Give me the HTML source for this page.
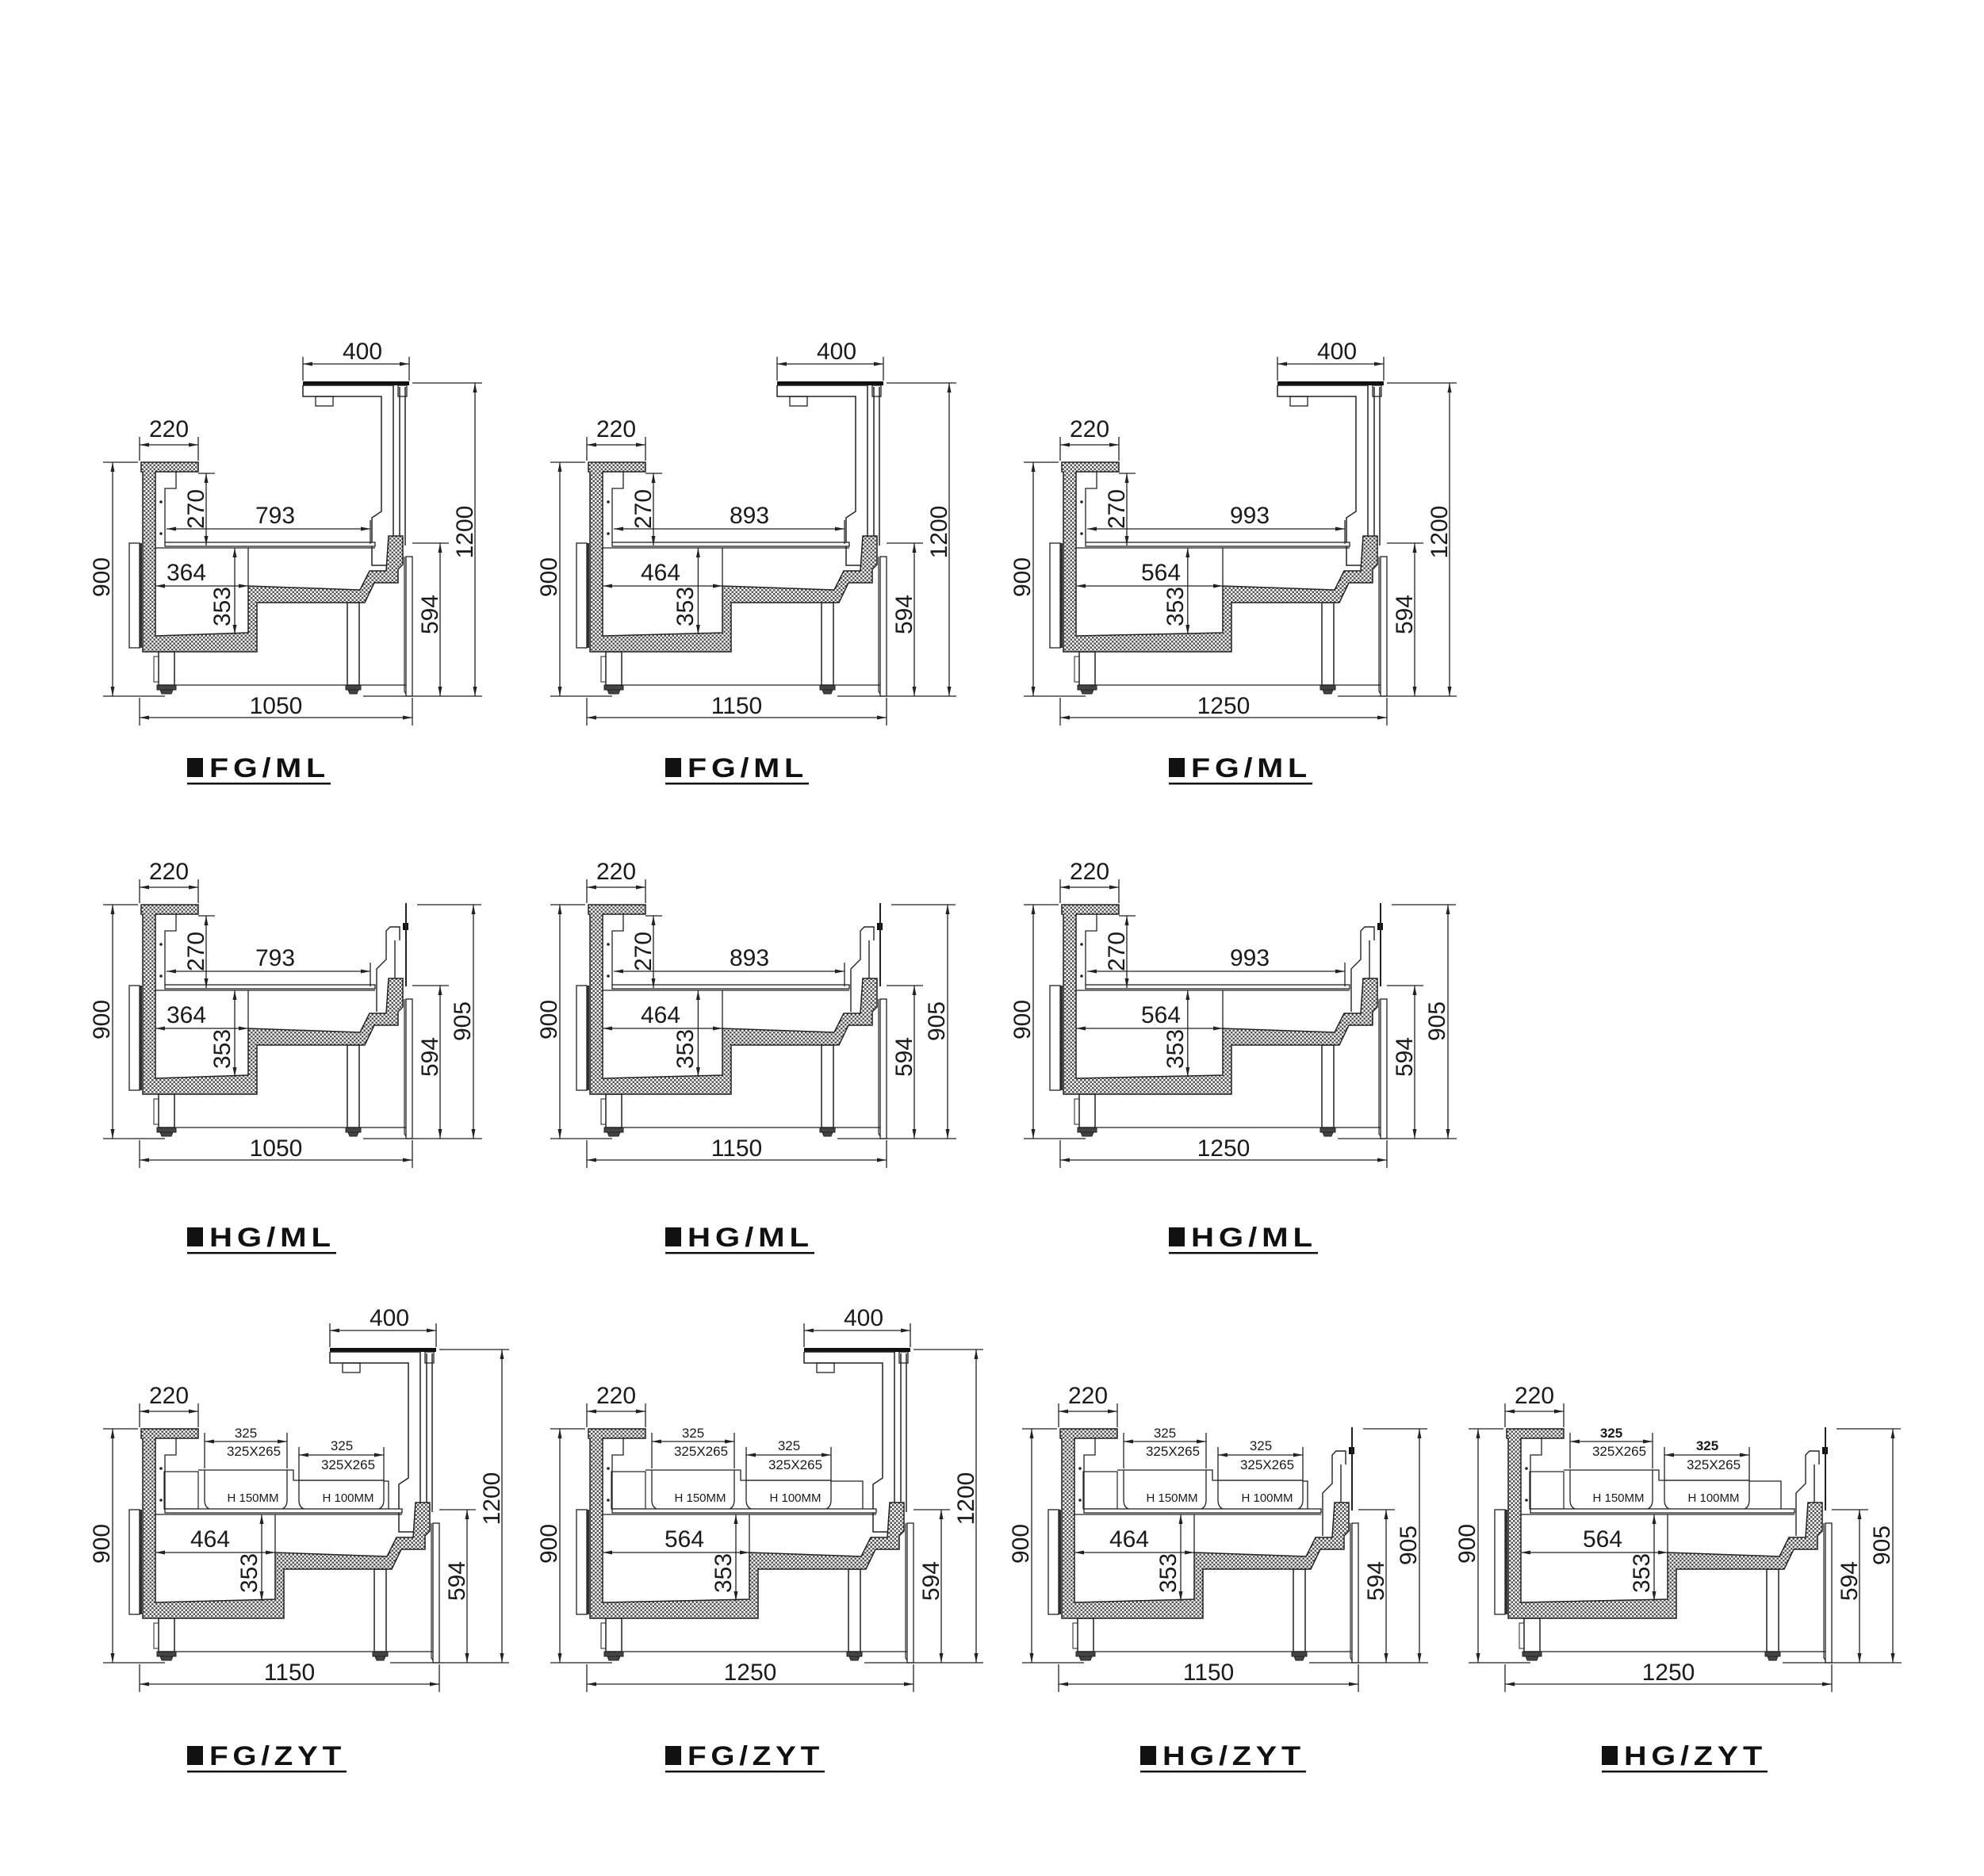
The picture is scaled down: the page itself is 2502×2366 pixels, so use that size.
<!DOCTYPE html>
<html><head><meta charset="utf-8">
<style>
html,body{margin:0;padding:0;background:#fff;}
svg{display:block}
.t{font-family:"Liberation Sans",Arial,sans-serif;font-size:30px;fill:#1a1a1a;text-anchor:middle}
.s{font-family:"Liberation Sans",Arial,sans-serif;font-size:17px;fill:#1a1a1a;text-anchor:middle}
.p{font-family:"Liberation Sans",Arial,sans-serif;font-size:15px;fill:#1a1a1a;text-anchor:middle}
.lb{font-family:"Liberation Sans",Arial,sans-serif;font-size:34px;font-weight:bold;fill:#111;letter-spacing:5px}
</style></head>
<body>
<svg id="svg" width="2502" height="2366" viewBox="0 0 2502 2366" xmlns="http://www.w3.org/2000/svg">
<defs>
<pattern id="pat" width="5" height="5" patternUnits="userSpaceOnUse"><rect width="5" height="5" fill="#fff"/><rect width="2.5" height="2.5" fill="#555"/><rect x="2.5" y="2.5" width="2.5" height="2.5" fill="#555"/></pattern>
<marker id="ar" viewBox="0 0 12 5" refX="12" refY="2.5" markerWidth="12" markerHeight="5" markerUnits="userSpaceOnUse" orient="auto-start-reverse"><path d="M0,0 L12,2.5 L0,5 Z" fill="#222"/></marker>
</defs>
<rect width="2502" height="2366" fill="#fff"/>

<!-- Row 1 FG/ML -->
<g id="c1" transform="translate(176,878)">
<text class="t" transform="translate(-38,-150) rotate(-90)">900</text>
<text class="t" x="37" y="-327">220</text>
<text class="t" transform="translate(81,-236) rotate(-90)">270</text>
<text class="t" x="171" y="-218">793</text>
<text class="t" x="59" y="-146">364</text>
<text class="t" transform="translate(114,-113) rotate(-90)">353</text>
<text class="t" transform="translate(376,-103) rotate(-90)">594</text>
<text class="t" transform="translate(420,-207) rotate(-90)">1200</text>
<text class="t" x="281" y="-425">400</text>
<text class="t" x="172" y="22">1050</text>
</g>
<g id="c2" transform="translate(740,878)">
<text class="t" transform="translate(-38,-150) rotate(-90)">900</text>
<text class="t" x="37" y="-327">220</text>
<text class="t" transform="translate(81,-236) rotate(-90)">270</text>
<text class="t" x="205" y="-218">893</text>
<text class="t" x="93" y="-146">464</text>
<text class="t" transform="translate(134,-113) rotate(-90)">353</text>
<text class="t" transform="translate(410,-103) rotate(-90)">594</text>
<text class="t" transform="translate(454,-207) rotate(-90)">1200</text>
<text class="t" x="315" y="-425">400</text>
<text class="t" x="189" y="22">1150</text>
</g>
<g id="c3" transform="translate(1337,878)">
<text class="t" transform="translate(-38,-150) rotate(-90)">900</text>
<text class="t" x="37" y="-327">220</text>
<text class="t" transform="translate(81,-236) rotate(-90)">270</text>
<text class="t" x="239" y="-218">993</text>
<text class="t" x="127" y="-146">564</text>
<text class="t" transform="translate(155,-113) rotate(-90)">353</text>
<text class="t" transform="translate(444,-103) rotate(-90)">594</text>
<text class="t" transform="translate(488,-207) rotate(-90)">1200</text>
<text class="t" x="349" y="-425">400</text>
<text class="t" x="206" y="22">1250</text>
</g>

<!-- Row 2 HG/ML -->
<g id="c4" transform="translate(176,1436)">
<text class="t" transform="translate(-38,-150) rotate(-90)">900</text>
<text class="t" x="37" y="-327">220</text>
<text class="t" transform="translate(81,-236) rotate(-90)">270</text>
<text class="t" x="171" y="-218">793</text>
<text class="t" x="59" y="-146">364</text>
<text class="t" transform="translate(114,-113) rotate(-90)">353</text>
<text class="t" transform="translate(376,-103) rotate(-90)">594</text>
<text class="t" transform="translate(417,-148) rotate(-90)">905</text>
<text class="t" x="172" y="22">1050</text>
</g>
<g id="c5" transform="translate(740,1436)">
<text class="t" transform="translate(-38,-150) rotate(-90)">900</text>
<text class="t" x="37" y="-327">220</text>
<text class="t" transform="translate(81,-236) rotate(-90)">270</text>
<text class="t" x="205" y="-218">893</text>
<text class="t" x="93" y="-146">464</text>
<text class="t" transform="translate(134,-113) rotate(-90)">353</text>
<text class="t" transform="translate(410,-103) rotate(-90)">594</text>
<text class="t" transform="translate(451,-148) rotate(-90)">905</text>
<text class="t" x="189" y="22">1150</text>
</g>
<g id="c6" transform="translate(1337,1436)">
<text class="t" transform="translate(-38,-150) rotate(-90)">900</text>
<text class="t" x="37" y="-327">220</text>
<text class="t" transform="translate(81,-236) rotate(-90)">270</text>
<text class="t" x="239" y="-218">993</text>
<text class="t" x="127" y="-146">564</text>
<text class="t" transform="translate(155,-113) rotate(-90)">353</text>
<text class="t" transform="translate(444,-103) rotate(-90)">594</text>
<text class="t" transform="translate(485,-148) rotate(-90)">905</text>
<text class="t" x="206" y="22">1250</text>
</g>

<!-- Row 3 ZYT -->
<g id="c7" transform="translate(176,2097)">
<text class="t" transform="translate(-38,-150) rotate(-90)">900</text>
<text class="t" x="37" y="-327">220</text>
<text class="t" x="89" y="-146">464</text>
<text class="t" transform="translate(148,-113) rotate(-90)">353</text>
<text class="t" transform="translate(410,-103) rotate(-90)">594</text>
<text class="t" transform="translate(454,-207) rotate(-90)">1200</text>
<text class="t" x="315" y="-425">400</text>
<text class="t" x="189" y="22">1150</text>
<text class="s" x="134" y="-284">325</text><text class="s" x="144" y="-261">325X265</text>
<text class="s" x="255" y="-268">325</text><text class="s" x="263" y="-244">325X265</text>
<text class="p" x="143" y="-203">H 150MM</text><text class="p" x="263" y="-203">H 100MM</text>
</g>
<g id="c8" transform="translate(740,2097)">
<text class="t" transform="translate(-38,-150) rotate(-90)">900</text>
<text class="t" x="37" y="-327">220</text>
<text class="t" x="123" y="-146">564</text>
<text class="t" transform="translate(182,-113) rotate(-90)">353</text>
<text class="t" transform="translate(444,-103) rotate(-90)">594</text>
<text class="t" transform="translate(488,-207) rotate(-90)">1200</text>
<text class="t" x="349" y="-425">400</text>
<text class="t" x="206" y="22">1250</text>
<text class="s" x="134" y="-284">325</text><text class="s" x="144" y="-261">325X265</text>
<text class="s" x="255" y="-268">325</text><text class="s" x="263" y="-244">325X265</text>
<text class="p" x="143" y="-203">H 150MM</text><text class="p" x="263" y="-203">H 100MM</text>
</g>
<g id="c9" transform="translate(1335,2097)">
<text class="t" transform="translate(-38,-150) rotate(-90)">900</text>
<text class="t" x="37" y="-327">220</text>
<text class="t" x="89" y="-146">464</text>
<text class="t" transform="translate(148,-113) rotate(-90)">353</text>
<text class="t" transform="translate(410,-103) rotate(-90)">594</text>
<text class="t" transform="translate(451,-148) rotate(-90)">905</text>
<text class="t" x="189" y="22">1150</text>
<text class="s" x="134" y="-284">325</text><text class="s" x="144" y="-261">325X265</text>
<text class="s" x="255" y="-268">325</text><text class="s" x="263" y="-244">325X265</text>
<text class="p" x="143" y="-203">H 150MM</text><text class="p" x="263" y="-203">H 100MM</text>
</g>
<g id="c10" transform="translate(1898,2097)">
<text class="t" transform="translate(-38,-150) rotate(-90)">900</text>
<text class="t" x="37" y="-327">220</text>
<text class="t" x="123" y="-146">564</text>
<text class="t" transform="translate(182,-113) rotate(-90)">353</text>
<text class="t" transform="translate(444,-103) rotate(-90)">594</text>
<text class="t" transform="translate(485,-148) rotate(-90)">905</text>
<text class="t" x="206" y="22">1250</text>
<text class="s" x="134" y="-284" font-weight="bold">325</text><text class="s" x="144" y="-261">325X265</text>
<text class="s" x="255" y="-268" font-weight="bold">325</text><text class="s" x="263" y="-244">325X265</text>
<text class="p" x="143" y="-203">H 150MM</text><text class="p" x="263" y="-203">H 100MM</text>
</g>

<!-- Labels -->
<g>
<rect x="236" y="956" width="20" height="24" fill="#111"/><text class="lb" x="264" y="980" textLength="152" lengthAdjust="spacingAndGlyphs">FG/ML</text><rect x="236" y="987" width="181" height="2.5" fill="#111"/>
<rect x="839" y="956" width="20" height="24" fill="#111"/><text class="lb" x="867" y="980" textLength="152" lengthAdjust="spacingAndGlyphs">FG/ML</text><rect x="839" y="987" width="181" height="2.5" fill="#111"/>
<rect x="1474" y="956" width="20" height="24" fill="#111"/><text class="lb" x="1502" y="980" textLength="152" lengthAdjust="spacingAndGlyphs">FG/ML</text><rect x="1474" y="987" width="181" height="2.5" fill="#111"/>

<rect x="236" y="1548" width="20" height="24" fill="#111"/><text class="lb" x="264" y="1572" textLength="159" lengthAdjust="spacingAndGlyphs">HG/ML</text><rect x="236" y="1579" width="188" height="2.5" fill="#111"/>
<rect x="839" y="1548" width="20" height="24" fill="#111"/><text class="lb" x="867" y="1572" textLength="159" lengthAdjust="spacingAndGlyphs">HG/ML</text><rect x="839" y="1579" width="188" height="2.5" fill="#111"/>
<rect x="1474" y="1548" width="20" height="24" fill="#111"/><text class="lb" x="1502" y="1572" textLength="159" lengthAdjust="spacingAndGlyphs">HG/ML</text><rect x="1474" y="1579" width="188" height="2.5" fill="#111"/>

<rect x="236" y="2202" width="20" height="24" fill="#111"/><text class="lb" x="264" y="2226" textLength="172" lengthAdjust="spacingAndGlyphs">FG/ZYT</text><rect x="236" y="2233" width="201" height="2.5" fill="#111"/>
<rect x="839" y="2202" width="20" height="24" fill="#111"/><text class="lb" x="867" y="2226" textLength="172" lengthAdjust="spacingAndGlyphs">FG/ZYT</text><rect x="839" y="2233" width="201" height="2.5" fill="#111"/>
<rect x="1438" y="2202" width="20" height="24" fill="#111"/><text class="lb" x="1466" y="2226" textLength="180" lengthAdjust="spacingAndGlyphs">HG/ZYT</text><rect x="1438" y="2233" width="209" height="2.5" fill="#111"/>
<rect x="2020" y="2202" width="20" height="24" fill="#111"/><text class="lb" x="2048" y="2226" textLength="180" lengthAdjust="spacingAndGlyphs">HG/ZYT</text><rect x="2020" y="2233" width="209" height="2.5" fill="#111"/>
</g>
</svg>
<script>
(function(){
var NS="http://www.w3.org/2000/svg";
function el(g,tag,a){var e=document.createElementNS(NS,tag);for(var k in a)e.setAttribute(k,a[k]);g.insertBefore(e,g.firstChild);return e;}
function ln(g,x1,y1,x2,y2,w){return el(g,"line",{x1:x1,y1:y1,x2:x2,y2:y2,stroke:"#222","stroke-width":w||1.3});}
function dim(g,x1,y1,x2,y2){return el(g,"line",{x1:x1,y1:y1,x2:x2,y2:y2,stroke:"#222","stroke-width":1.3,"marker-start":"url(#ar)","marker-end":"url(#ar)"});}
function path(g,d,fill,w){return el(g,"path",{d:d,fill:fill||"none",stroke:"#222","stroke-width":w||1.5});}
function rect(g,x,y,w,h,fill,sw){return el(g,"rect",{x:x,y:y,width:w,height:h,fill:fill||"#fff",stroke:"#222","stroke-width":sw==null?1.5:sw});}
function draw(id,o){
 var g=document.getElementById(id),d=o.d;
 function S(x){return x>=130?x+d:x;}
 dim(g,-34,-295,-34,0); ln(g,-46,-295,-2,-295); ln(g,-46,0,32,0);
 dim(g,0,-317,74,-317); ln(g,0,-327,0,-297); ln(g,74,-327,74,-297);
 dim(g,0,27,344+d,27); ln(g,0,2,0,37); ln(g,344+d,2,344+d,37);
 dim(g,20,-139,137+d,-139);
 var x353=o.zyt?(117+d):(117+0.6*d);
 dim(g,x353+3,-187,x353+3,-78);
 dim(g,379+d,-193,379+d,0); ln(g,344+d,-193,390+d,-193); ln(g,282+d,0,432+d,0);
 if(o.ml){dim(g,84,-281,84,-190); ln(g,74,-281,95,-281); dim(g,34,-211,291+d,-211); ln(g,291+d,-222,291+d,-192);}
 if(o.fg){dim(g,423+d,-395,423+d,0); ln(g,344+d,-395,432+d,-395);
   dim(g,206+d,-419,340+d,-419); ln(g,206+d,-428,206+d,-398); ln(g,340+d,-428,340+d,-398);}
 else{dim(g,421+d,-295,421+d,0); ln(g,350+d,-295,431+d,-295);}
 if(o.zyt){dim(g,82,-279,186,-279); ln(g,82,-290,82,-245); ln(g,186,-290,186,-245);
   dim(g,201,-262,308,-262); ln(g,201,-272,201,-230); ln(g,308,-272,308,-230);}
 var pts=[[2,-295],[74,-295],[74,-283],[20,-283],[20,-76],[137,-80],[137,-139],[278,-134],[290,-158],[311,-158],[314,-202],[332,-202],[332,-166],[326,-160],[326,-143],[296,-143],[284,-118],[148,-118],[148,-56],[4,-56],[4,-283],[2,-283]];
 el(g,"polygon",{points:pts.map(function(p){return S(p[0])+","+p[1];}).join(" "),fill:"url(#pat)",stroke:"#222","stroke-width":1.5});
 rect(g,-13,-193,13,132,"#fff",1.3); rect(g,-2,-193,5,132,"#333",0);
 rect(g,24,-56,20,42); rect(g,22,-14,24,6,"#444",1); path(g,"M26,-8 L28,-3 H40 L42,-8","#444",1);
 rect(g,18,-50,6,32,"#fff",1);
 rect(g,262+d,-118,15,104); rect(g,260+d,-14,19,6,"#444",1);
 path(g,"M"+(263+d)+",-8 L"+(265+d)+",-3 H"+(274+d)+" L"+(276+d)+",-8","#444",1);
 ln(g,44,-14,336+d,-14,1.2);
 rect(g,336+d,-176,8,176,"#fff",1.3);
 path(g,"M"+(334+d)+",-176 V-6 L"+(338+d)+",0",null,1.2);
 path(g,"M46,-283 V-262 H32 V-194",null,1.3);
 el(g,"circle",{cx:27,cy:-245,r:1.8,fill:"#222"}); el(g,"circle",{cx:27,cy:-205,r:1.8,fill:"#222"});
 rect(g,32,-194,265+d,5,"#fff",1.3);
 ln(g,20,-187,297+d,-187,1.3);
 ln(g,137+d,-187,137+d,-139,1.3);
 if(o.zyt){
   rect(g,31,-241,43,47,"#fff",1.2); ln(g,31,-233,74,-233,1.2);
   path(g,"M74,-243 H186 V-205 Q186,-193 174,-193 H94 Q82,-193 82,-205 V-243",null,1.3);
   path(g,"M186,-243 H194 V-230 H308",null,1.3);
   path(g,"M201,-230 H308 V-205 Q308,-193 296,-193 H213 Q201,-193 201,-205 Z",null,1.3);
   path(g,"M308,-229 H"+(280+d)+" V-194",null,1.3);
 }
 if(o.fg){
   path(g,"M"+(206+d)+",-392 H"+(320+d)+" V-200 M"+(206+d)+",-392 V-378 H"+(305+d)+" V-233 L"+(293+d)+",-225 V-165 H"+(311+d),null,1.5);
   rect(g,206+d,-397,134,5,"#111",0);
   rect(g,222+d,-378,22,12,"#fff",1.3);
   ln(g,328+d,-390,328+d,-190,1.5); ln(g,335+d,-390,335+d,-190,1.5);
   rect(g,326+d,-392,11,14,"#fff",1.3);
 } else {
   ln(g,336+d,-297,336+d,-192,2);
   rect(g,332+d,-272,7,9,"#111",0);
   path(g,"M"+(299+d)+",-160 V-214 L"+(311+d)+",-226 V-262 L"+(316+d)+",-267 H"+(328+d)+" V-250 M"+(322+d)+",-250 V-200",null,1.4);
 }
}
draw("c1",{d:0,fg:1,ml:1});draw("c2",{d:34,fg:1,ml:1});draw("c3",{d:68,fg:1,ml:1});
draw("c4",{d:0,ml:1});draw("c5",{d:34,ml:1});draw("c6",{d:68,ml:1});
draw("c7",{d:34,fg:1,zyt:1});draw("c8",{d:68,fg:1,zyt:1});
draw("c9",{d:34,zyt:1});draw("c10",{d:68,zyt:1});
})();
</script>
</body></html>
